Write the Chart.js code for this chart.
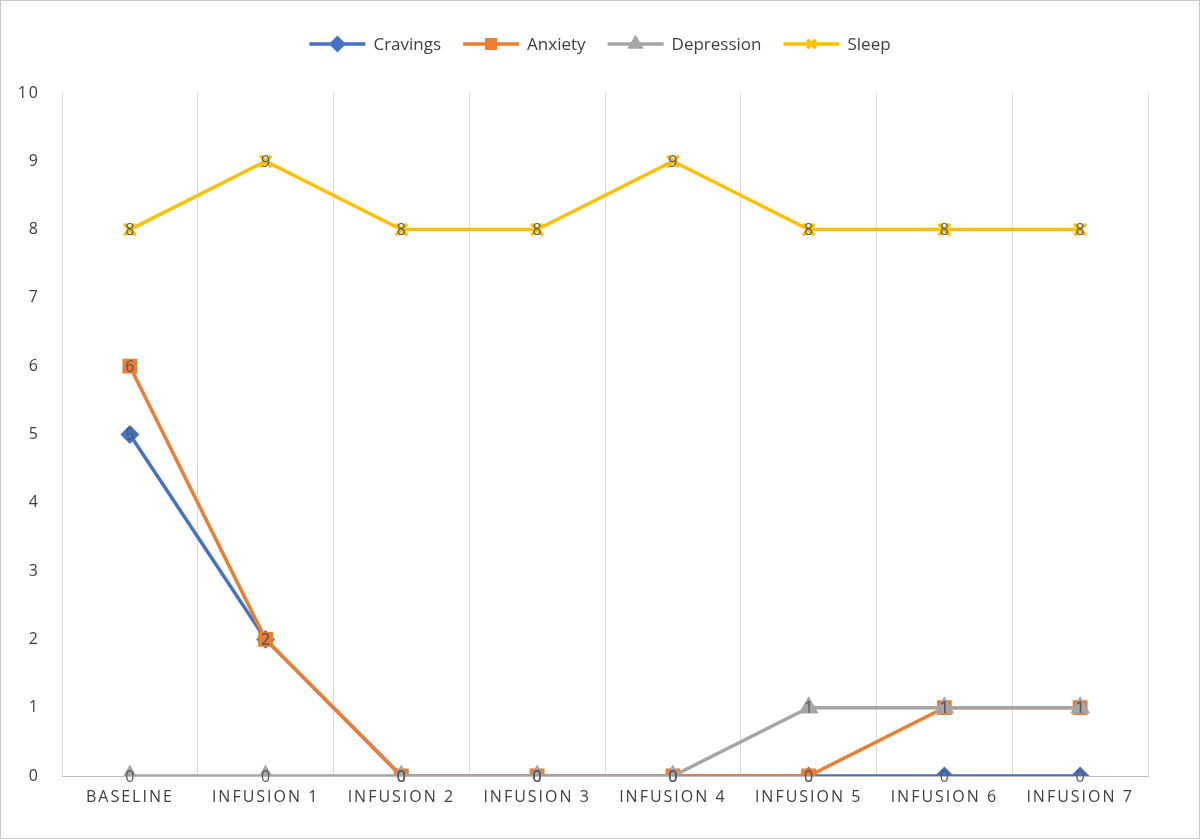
<!DOCTYPE html>
<html><head><meta charset="utf-8">
<script src="https://cdn.jsdelivr.net/npm/chart.js@4/dist/chart.umd.min.js"></script>
<style>html,body{margin:0;padding:0;background:#fff}#w{width:1200px;height:839px}</style>
</head><body><div id="w"><canvas id="c"></canvas></div>
<script>
const categories=["BASELINE","INFUSION 1","INFUSION 2","INFUSION 3","INFUSION 4","INFUSION 5","INFUSION 6","INFUSION 7"];
const cravings=[5,2,0,0,0,0,0,0];
const anxiety=[6,2,0,0,0,0,1,1];
const depression=[0,0,0,0,0,1,1,1];
const sleep=[8,9,8,8,9,8,8,8];
const yTicks=[0,1,2,3,4,5,6,7,8,9,10];

const mk=(label,data,color,style,order,r)=>({label,data,borderColor:color,backgroundColor:color,pointStyle:style,pointRadius:r,pointBorderColor:color,pointBackgroundColor:color,borderWidth:3.5,order,tension:0});
const ds=[mk("Cravings",cravings,"#4472C4","rectRot",2,7),mk("Anxiety",anxiety,"#ED7D31","rect",1,8),mk("Depression",depression,"#A5A5A5","triangle",0,8),mk("Sleep",sleep,"#FFC000","crossRot",3,8)];

const deco={id:"deco",
beforeDraw(ch){const c=ch.ctx;c.save();c.fillStyle="#fff";c.fillRect(0,0,ch.width,ch.height);c.strokeStyle="#c8c8c8";c.lineWidth=1;c.strokeRect(0.5,0.5,ch.width-1,ch.height-1);c.restore();},
afterDatasetsDraw(ch){const c=ch.ctx;c.save();c.letterSpacing="0px";c.font="16px 'Open Sans', sans-serif";c.fillStyle="#595959";c.textAlign="center";c.textBaseline="middle";
ch.data.datasets.forEach((d,i)=>{const m=ch.getDatasetMeta(i);m.data.forEach((p,j)=>c.fillText(String(d.data[j]),p.x,p.y+1));});
const items=ch.data.datasets;c.font="17px 'Open Sans', sans-serif";const widths=items.map(d=>56+8+c.measureText(d.label).width);
const gap=22;const total=widths.reduce((a,b)=>a+b,0)+gap*(items.length-1);let x=(ch.width-total)/2;const y=44;
items.forEach((d,i)=>{c.strokeStyle=d.borderColor;c.lineWidth=3.5;c.beginPath();c.moveTo(x,y);c.lineTo(x+56,y);c.stroke();
c.fillStyle=d.borderColor;c.strokeStyle=d.borderColor;
Chart.helpers.drawPoint(c,{pointStyle:d.pointStyle,radius:6,borderWidth:2,rotation:0},x+28,y);
c.fillStyle="#404040";c.textAlign="left";c.fillText(d.label,x+64,y+1);x+=widths[i]+gap;});
c.restore();}};
Chart.register(deco);
new Chart(document.getElementById("c"),{type:"line",data:{labels:categories,datasets:ds},
options:{responsive:true,maintainAspectRatio:false,animation:false,
layout:{padding:{top:93,right:52,left:0,bottom:0}},
plugins:{legend:{display:false},tooltip:{enabled:false}},
scales:{
x:{offset:true,grid:{offset:true,color:"#d9d9d9",lineWidth:1,drawTicks:false},border:{color:"#bfbfbf"},
ticks:{color:"#404040",font:{size:16,family:"'Open Sans', sans-serif"},padding:12,maxRotation:0,autoSkip:false},afterFit(s){s.height=63;}},
y:{min:0,max:10,ticks:{stepSize:1,color:"#404040",font:{size:16,family:"'Open Sans', sans-serif"},padding:14},grid:{display:false},border:{display:false},afterFit(s){s.width=62;}}
}},
plugins:[{id:"ls",beforeDraw(ch){ch.ctx.letterSpacing="2px";},afterDraw(ch){ch.ctx.letterSpacing="0px";}}]});
</script></body></html>
